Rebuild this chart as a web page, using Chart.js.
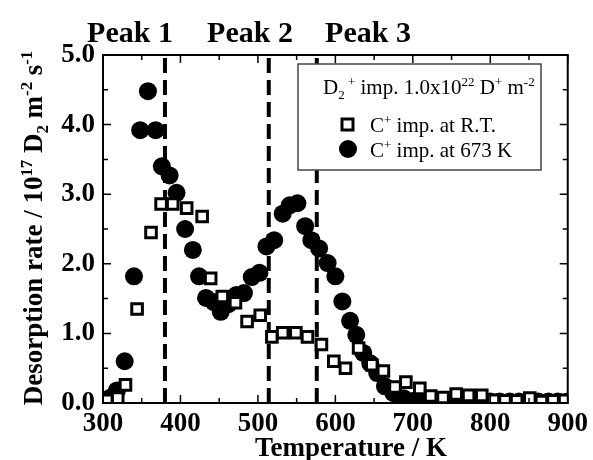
<!DOCTYPE html>
<html>
<head>
<meta charset="utf-8">
<script src="https://cdn.jsdelivr.net/npm/chart.js@4"></script>
<style>
  html, body { margin: 0; padding: 0; background: #fff; }
  #wrap { width: 593px; height: 460px; position: relative; }
</style>
</head>
<body>
<div id="wrap"><canvas id="myChart" width="593" height="460"></canvas></div>
<script>
// C+ implanted at room temperature (open squares)
const rtTemps = [305, 319, 329, 344, 362, 375, 390, 408, 428, 439, 454, 471, 486, 503, 518, 532, 549, 564, 582, 598, 613, 630, 647, 662, 677, 691, 709, 723, 739, 756, 772, 789, 804, 819, 834, 851, 866, 881, 896];
const rtRates = [0.04, 0.07, 0.26, 1.35, 2.45, 2.86, 2.86, 2.80, 2.68, 1.79, 1.53, 1.44, 1.17, 1.26, 0.95, 1.01, 1.01, 0.95, 0.84, 0.60, 0.50, 0.79, 0.55, 0.46, 0.23, 0.30, 0.21, 0.10, 0.08, 0.13, 0.11, 0.11, 0.04, 0.03, 0.03, 0.07, 0.02, 0.03, 0.04];

// C+ implanted at 673 K (filled circles)
const hotTemps = [310, 318, 328, 340, 348, 358, 368, 376, 386, 395, 406, 416, 424, 433, 443, 452, 462, 472, 482, 492, 502, 511, 521, 532, 541, 551, 561, 569, 579, 590, 600, 609, 619, 627, 636, 645, 654, 664, 675, 688, 700, 712, 725, 737, 750, 762, 775, 787, 800, 812, 825, 837, 850, 862, 875, 887, 900];
const hotRates = [0.08, 0.18, 0.60, 1.82, 3.92, 4.48, 3.92, 3.40, 3.27, 3.02, 2.50, 2.20, 1.82, 1.51, 1.45, 1.31, 1.42, 1.55, 1.58, 1.81, 1.87, 2.25, 2.34, 2.72, 2.84, 2.87, 2.54, 2.34, 2.22, 2.01, 1.82, 1.46, 1.18, 0.98, 0.72, 0.57, 0.43, 0.24, 0.14, 0.07, 0.03, 0.02, 0.02, 0.01, 0.01, 0.01, 0.01, 0.01, 0.02, 0.02, 0.02, 0.02, 0.03, 0.02, 0.02, 0.02, 0.02];

// dashed peak markers
const peakTemps = [380, 514, 576];
const peakLabels = ['Peak 1', 'Peak 2', 'Peak 3'];

const xMin = 300, xMax = 900, yMin = 0, yMax = 5;
const serif = '"Liberation Serif", "Times New Roman", serif';

function toPoints(xs, ys) {
  return xs.map((x, i) => ({ x: x, y: ys[i] }));
}

// text with sub/superscripts: parts = [{t, sub, sup}]
function richWidth(ctx, parts, size, weight) {
  let w = 0;
  parts.forEach((p) => {
    const s = (p.sub || p.sup) ? size * 0.62 : size;
    ctx.font = `${weight} ${s}px ${serif}`;
    w += ctx.measureText(p.t).width;
  });
  return w;
}

function drawRich(ctx, parts, x, y, size, weight) {
  let cx = x;
  parts.forEach((p) => {
    const s = (p.sub || p.sup) ? size * 0.62 : size;
    ctx.font = `${weight} ${s}px ${serif}`;
    const dy = p.sup ? -size * 0.38 : (p.sub ? size * 0.22 : 0);
    ctx.fillText(p.t, cx, y + dy);
    cx += ctx.measureText(p.t).width;
  });
}

const framePlugin = {
  id: 'frame',
  afterDatasetsDraw(chart) {
    const { ctx, chartArea: a, scales } = chart;
    const xs = scales.x, ys = scales.y;
    ctx.save();
    ctx.strokeStyle = '#000';

    // ticks, inward, on all four sides
    ctx.lineWidth = 1.5;
    for (let v = xMin; v <= xMax; v += 50) {
      const px = xs.getPixelForValue(v);
      const len = (v % 100 === 0) ? 8 : 5;
      ctx.beginPath();
      ctx.moveTo(px, a.bottom); ctx.lineTo(px, a.bottom - len);
      ctx.moveTo(px, a.top); ctx.lineTo(px, a.top + len);
      ctx.stroke();
    }
    for (let v = yMin; v <= yMax + 0.001; v += 0.5) {
      const py = ys.getPixelForValue(v);
      const len = (Math.abs(v - Math.round(v)) < 0.01) ? 8 : 5;
      ctx.beginPath();
      ctx.moveTo(a.left, py); ctx.lineTo(a.left + len, py);
      ctx.moveTo(a.right, py); ctx.lineTo(a.right - len, py);
      ctx.stroke();
    }
    ctx.lineWidth = 2;
    ctx.strokeRect(a.left, a.top, a.right - a.left, a.bottom - a.top);

    // legend box
    const lx = 298, ly = 64, lw = 243, lh = 106;
    ctx.fillStyle = '#fff';
    ctx.fillRect(lx, ly, lw, lh);
    ctx.strokeStyle = '#444';
    ctx.lineWidth = 1.5;
    ctx.strokeRect(lx, ly, lw, lh);

    ctx.fillStyle = '#000';
    ctx.textBaseline = 'alphabetic';
    ctx.textAlign = 'left';
    const head = [
      { t: 'D' }, { t: '2', sub: true }, { t: ' +', sup: true },
      { t: ' imp. 1.0x10' }, { t: '22', sup: true },
      { t: ' D' }, { t: '+', sup: true }, { t: ' m' }, { t: '-2', sup: true }
    ];
    drawRich(ctx, head, 323, 94, 21, 'normal');

    // square symbol
    ctx.strokeStyle = '#000';
    ctx.lineWidth = 3;
    ctx.fillStyle = '#fff';
    ctx.fillRect(342, 119, 11, 11);
    ctx.strokeRect(342, 119, 11, 11);
    ctx.fillStyle = '#000';
    drawRich(ctx, [{ t: 'C' }, { t: '+', sup: true }, { t: ' imp. at R.T.' }], 370, 132, 21, 'normal');

    // circle symbol
    ctx.beginPath();
    ctx.arc(348, 149, 9, 0, Math.PI * 2);
    ctx.fill();
    drawRich(ctx, [{ t: 'C' }, { t: '+', sup: true }, { t: ' imp. at 673 K' }], 370, 157, 21, 'normal');

    ctx.restore();
  },
  afterDraw(chart) {
    const { ctx } = chart;
    ctx.save();
    ctx.fillStyle = '#000';
    ctx.textBaseline = 'alphabetic';

    // peak labels along the top
    ctx.font = `bold 30px ${serif}`;
    ctx.textAlign = 'center';
    const peakX = [130, 250, 368];
    peakLabels.forEach((t, i) => ctx.fillText(t, peakX[i], 42));

    // x axis title
    ctx.font = `bold 27px ${serif}`;
    ctx.fillText('Temperature / K', 351, 456);

    // y axis title, rotated
    const yt = [
      { t: 'Desorption rate / 10' }, { t: '17', sup: true },
      { t: ' D' }, { t: '2', sub: true }, { t: ' m' }, { t: '-2', sup: true },
      { t: ' s' }, { t: '-1', sup: true }
    ];
    const w = richWidth(ctx, yt, 27, 'bold');
    ctx.translate(42, 228);
    ctx.rotate(-Math.PI / 2);
    ctx.textAlign = 'left';
    drawRich(ctx, yt, -w / 2, 0, 27, 'bold');
    ctx.restore();
  }
};

function peakDataset(t) {
  return {
    type: 'line',
    data: [{ x: t, y: yMin }, { x: t, y: yMax }],
    borderColor: '#000',
    borderWidth: 4,
    borderDash: [15, 7],
    pointRadius: 0,
    showLine: true,
    fill: false,
    clip: 0
  };
}

function initChart(target) {
  const datasets = [
    {
      label: 'C+ imp. at R.T.',
      data: toPoints(rtTemps, rtRates),
      pointStyle: 'rect',
      pointRadius: 7.5,
      pointHoverRadius: 7.5,
      backgroundColor: '#fff',
      borderColor: '#000',
      borderWidth: 3,
      clip: 0
    },
    {
      label: 'C+ imp. at 673 K',
      data: toPoints(hotTemps, hotRates),
      pointStyle: 'circle',
      pointRadius: 9,
      pointHoverRadius: 9,
      backgroundColor: '#000',
      borderColor: '#000',
      borderWidth: 0,
      clip: 0
    }
  ].concat(peakTemps.map(peakDataset));

  const config = {
    type: 'scatter',
    data: { datasets: datasets },
    options: {
      responsive: false,
      animation: false,
      events: [],
      layout: { padding: { left: 0, top: 55, right: 20, bottom: 0 } },
      plugins: { legend: { display: false }, tooltip: { enabled: false } },
      scales: {
        x: {
          type: 'linear',
          min: xMin,
          max: xMax,
          grid: { display: false, drawTicks: false },
          border: { display: false },
          afterFit: (scale) => { scale.height = 57; },
          ticks: {
            stepSize: 100,
            padding: 5,
            color: '#000',
            font: { family: serif, size: 27, weight: 'bold' },
            maxRotation: 0
          }
        },
        y: {
          type: 'linear',
          min: yMin,
          max: yMax,
          grid: { display: false, drawTicks: false },
          border: { display: false },
          afterFit: (scale) => { scale.width = 103; },
          ticks: {
            stepSize: 1,
            padding: 8,
            color: '#000',
            font: { family: serif, size: 27, weight: 'bold' },
            callback: (v) => Number(v).toFixed(1)
          }
        }
      }
    },
    plugins: [framePlugin]
  };

  return new Chart(target, config);
}

document.addEventListener('DOMContentLoaded', () => {
  initChart(document.querySelector('#myChart'));
});
</script>
</body>
</html>
